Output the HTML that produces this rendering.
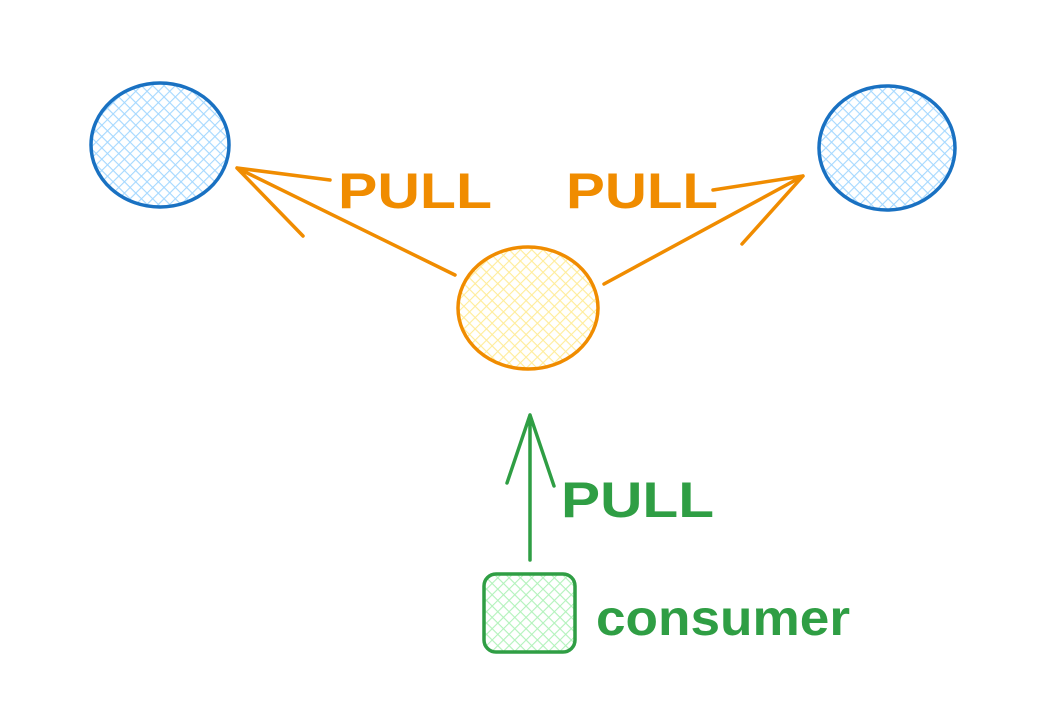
<!DOCTYPE html>
<html><head><meta charset="utf-8"><style>
html,body{margin:0;padding:0;background:#fff;}
svg{display:block;}
text{font-family:"Liberation Sans",sans-serif;font-weight:bold;}
</style></head><body>
<svg width="1053" height="727" viewBox="0 0 1053 727" xmlns="http://www.w3.org/2000/svg">
<defs>
<pattern id="hb" width="8" height="8" patternUnits="userSpaceOnUse" patternTransform="rotate(45)">
<path d="M0 0H8M0 0V8" stroke="#a5d8ff" stroke-width="2.2"/></pattern>
<pattern id="hy" width="8" height="8" patternUnits="userSpaceOnUse" patternTransform="rotate(45)">
<path d="M0 0H8M0 0V8" stroke="#ffec99" stroke-width="2.2"/></pattern>
<pattern id="hg" width="8" height="8" patternUnits="userSpaceOnUse" patternTransform="rotate(45)">
<path d="M0 0H8M0 0V8" stroke="#b2f2bb" stroke-width="2.2"/></pattern>
</defs>
<rect width="1053" height="727" fill="#fff"/>
<ellipse cx="160" cy="145" rx="69" ry="62" fill="url(#hb)" stroke="#1971c2" stroke-width="3.5"/>
<ellipse cx="887" cy="148" rx="68" ry="62" fill="url(#hb)" stroke="#1971c2" stroke-width="3.5"/>
<ellipse cx="528" cy="308" rx="70" ry="61" fill="url(#hy)" stroke="#f08c00" stroke-width="3.5"/>
<rect x="484" y="574" width="91" height="78" rx="12" fill="url(#hg)" stroke="#2f9e44" stroke-width="3.5"/>
<g stroke="#f08c00" stroke-width="3.5" fill="none" stroke-linecap="round">
<path d="M455 275 L237 168 M237 168 L330 180 M237 168 L303 236"/>
<path d="M604 284 L803 176 M803 176 L713 190 M803 176 L742 244"/>
</g>
<g stroke="#2f9e44" stroke-width="3.5" fill="none" stroke-linecap="round">
<path d="M530 560 L530 415 M530 415 L507 483 M530 415 L554 486"/>
</g>
<text x="338" y="208" font-size="50" fill="#f08c00" textLength="154" lengthAdjust="spacingAndGlyphs">PULL</text>
<text x="566" y="208" font-size="50" fill="#f08c00" textLength="152" lengthAdjust="spacingAndGlyphs">PULL</text>
<text x="561" y="517" font-size="50" fill="#2f9e44" textLength="153" lengthAdjust="spacingAndGlyphs">PULL</text>
<text x="596" y="635" font-size="50" fill="#2f9e44" textLength="254" lengthAdjust="spacingAndGlyphs">consumer</text>
</svg>
</body></html>
